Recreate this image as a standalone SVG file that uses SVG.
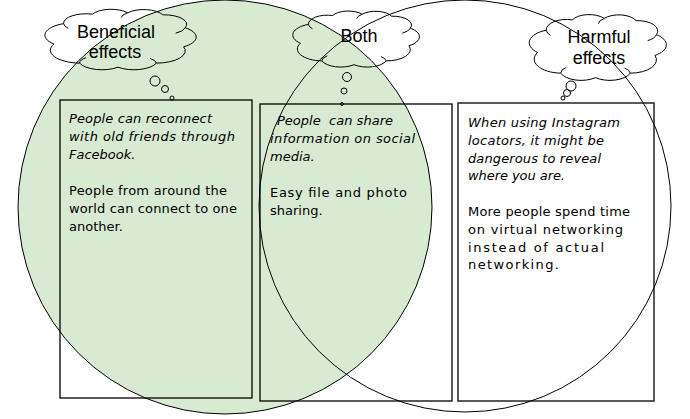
<svg xmlns="http://www.w3.org/2000/svg" xmlns:xlink="http://www.w3.org/1999/xlink" width="690" height="419" viewBox="0 0 690 419">
<style>
.ln{fill:none;stroke:#000;stroke-width:1}
.cl{fill:none;stroke:#000;stroke-width:1;vector-effect:non-scaling-stroke}
.box{fill:none;stroke:#000;stroke-width:1.3}
.bub{fill:none;stroke:#000;stroke-width:1}
.hd{font-family:"Liberation Sans",Arial,sans-serif;font-size:18px;fill:#000;text-anchor:middle}
.tx{font-family:"DejaVu Sans",sans-serif;font-size:13px;fill:#000}
.it{font-style:italic}
</style>
<defs>
<g id="cloud">
<path class="cl" d="M10,56 A18,18 0 0 1 16,26 A14,14 0 0 1 34,12 A13,13 0 0 1 56,10 A13,13 0 0 1 78,13 A14,14 0 0 1 92,32 A17,17 0 0 1 91,60 A18,18 0 0 1 74,84 A15,15 0 0 1 50,90 A15,15 0 0 1 26,84 A19,19 0 0 1 10,56 Z"/>
<path class="cl" d="M16,26 A12,12 0 0 0 19,33 M56,10 A10,10 0 0 0 52,17 M92,32 A12,12 0 0 1 86,40 M74,84 A10,10 0 0 0 70,77 M26,84 A10,10 0 0 1 30,76"/>
</g>
</defs>
<g id="venn">
<circle cx="225" cy="207" r="207" class="ln" style="fill:#d9ead3"/>
<circle cx="465" cy="206" r="206" class="ln"/>
</g>
<g id="beneficial">
<rect class="box" x="60" y="100" width="192" height="298"/>
<use href="#cloud" transform="translate(38,6) scale(1.6,0.68)"/>
<circle class="bub" cx="155" cy="81" r="5"/>
<circle class="bub" cx="165" cy="89" r="3.5"/>
<circle class="bub" cx="172" cy="98" r="2"/>
<text class="hd" x="116" y="38">Beneficial</text>
<text class="hd" x="115" y="58">effects</text>
<text class="tx it" x="69" y="123" textLength="143">People can reconnect</text>
<text class="tx it" x="69" y="141" textLength="166">with old friends through</text>
<text class="tx it" x="69" y="159">Facebook.</text>
<text class="tx" x="69" y="195" textLength="158">People from around the</text>
<text class="tx" x="69" y="213" textLength="168">world can connect to one</text>
<text class="tx" x="69" y="231">another.</text>
</g>
<g id="both">
<rect class="box" x="260" y="104" width="192" height="297"/>
<use href="#cloud" transform="translate(287,8) scale(1.34,0.63)"/>
<circle class="bub" cx="347" cy="77" r="4.5"/>
<circle class="bub" cx="344" cy="91" r="3"/>
<circle class="bub" cx="342" cy="104" r="1.5"/>
<text class="hd" x="359" y="42">Both</text>
<text class="tx it" x="277" y="125" xml:space="preserve" textLength="116">People  can share</text>
<text class="tx it" x="270" y="143" textLength="145">information on social</text>
<text class="tx it" x="270" y="161">media.</text>
<text class="tx" x="270" y="197" textLength="137">Easy file and photo</text>
<text class="tx" x="270" y="215">sharing.</text>
</g>
<g id="harmful">
<rect class="box" x="458" y="103" width="196" height="298"/>
<use href="#cloud" transform="translate(523,11) scale(1.45,0.74)"/>
<circle class="bub" cx="571" cy="86" r="5"/>
<circle class="bub" cx="567" cy="93" r="3.5"/>
<circle class="bub" cx="563" cy="98" r="2"/>
<text class="hd" x="599" y="43">Harmful</text>
<text class="hd" x="599" y="64">effects</text>
<text class="tx it" x="468" y="127" textLength="152">When using Instagram</text>
<text class="tx it" x="468" y="145" textLength="136">locators, it might be</text>
<text class="tx it" x="468" y="163" textLength="133">dangerous to reveal</text>
<text class="tx it" x="468" y="180" textLength="97">where you are.</text>
<text class="tx" x="468" y="216" textLength="162">More people spend time</text>
<text class="tx" x="468" y="234" textLength="155">on virtual networking</text>
<text class="tx" x="468" y="252" textLength="136">instead of actual</text>
<text class="tx" x="468" y="269" textLength="91">networking.</text>
</g>
</svg>
